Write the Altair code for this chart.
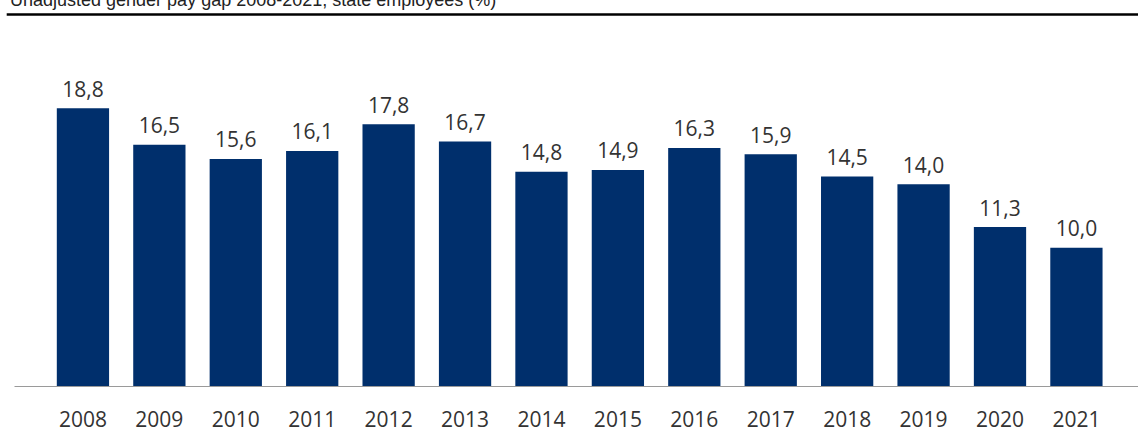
import altair as alt
import pandas as pd

years = ["2008", "2009", "2010", "2011", "2012", "2013", "2014",
         "2015", "2016", "2017", "2018", "2019", "2020", "2021"]
values = [18.8, 16.5, 15.6, 16.1, 17.8, 16.7, 14.8,
          14.9, 16.3, 15.9, 14.5, 14.0, 11.3, 10.0]
title_text = "Unadjusted gender pay gap 2008-2021, state employees (%)"

df = pd.DataFrame({
    "year": years,
    "value": values,
    "label": [f"{v:.1f}".replace(".", ",") for v in values],
})

BAR = "#002f6c"
TXT = "#333333"

x_enc = alt.X(
    "year:N",
    sort=years,
    scale=alt.Scale(paddingInner=0.316, paddingOuter=0.512, align=0.547),
    axis=alt.Axis(
        title=None,
        ticks=False,
        tickSize=0,
        labelAngle=0,
        labelFont="Open Sans",
        labelFontSize=21,
        labelColor=TXT,
        labelPadding=23,
        domainColor="#9a9a9a",
        domainWidth=1,
        grid=False,
    ),
)
y_scale = alt.Scale(domain=[0, 20], range=[406.1, 89.3])

base = alt.Chart(df)

bars = base.mark_bar(color=BAR, clip=True).encode(
    x=x_enc,
    y=alt.Y("value:Q", scale=y_scale, axis=None),
)

labels = base.mark_text(
    baseline="alphabetic",
    dy=-11.6,
    font="Open Sans",
    fontSize=21,
    color=TXT,
).encode(
    x=alt.X("year:N", sort=years),
    y=alt.Y("value:Q", scale=y_scale, axis=None),
    text="label:N",
)

title_df = pd.DataFrame({"t": [title_text]})
title = alt.Chart(title_df).mark_text(
    align="left",
    baseline="alphabetic",
    font="Liberation Sans",
    fontSize=18,
    color="#222222",
).encode(
    x=alt.value(-4),
    y=alt.value(5.5),
    text="t:N",
)

rule = alt.Chart(title_df).mark_rule(color="#000000", strokeWidth=2.3).encode(
    x=alt.value(-7.3),
    x2=alt.value(1124),
    y=alt.value(14.5),
)

chart = alt.layer(bars, labels, title, rule).properties(
    width=1124,
    height=386,
    autosize=alt.AutoSizeParams(type="none"),
    padding={"left": 14, "top": 0, "right": 0, "bottom": 46},
    background="#ffffff",
).configure_view(stroke=None)

chart.save("out.html", embed_options={"renderer": "svg", "actions": False})
